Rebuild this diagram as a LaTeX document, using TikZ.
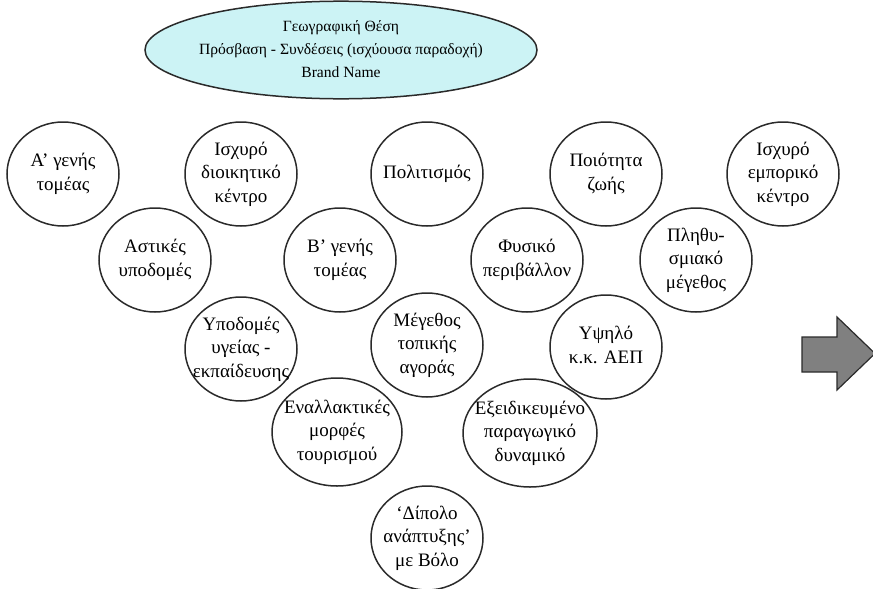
\documentclass[tikz,border=0pt]{standalone}
\usepackage{fontspec}
\setmainfont{Liberation Serif}
\usetikzlibrary{shapes.geometric}
\definecolor{topfill}{HTML}{CCF3F5}
\definecolor{linec}{HTML}{2A2A2A}
\definecolor{arrowfill}{HTML}{808080}
\newcommand\ctext[1]{\makebox[0pt]{\begin{tabular}{@{}c@{}}#1\end{tabular}}}
\tikzset{
  bubble/.style={ellipse, draw=linec, line width=1.5pt, inner sep=0pt,
    minimum width=112pt, minimum height=104pt,
    font=\fontsize{19}{23.5}\selectfont},
  wide/.style={bubble, minimum width=130pt, minimum height=108pt},
  topell/.style={ellipse, draw=linec, line width=1.5pt, fill=topfill, inner sep=0pt,
    minimum width=392pt, minimum height=92pt,
    font=\fontsize{15.6}{23}\selectfont},
  bigarrow/.style={draw=linec, line width=1.2pt, fill=arrowfill, line join=miter}
}
\begin{document}
\begin{tikzpicture}[x=1pt,y=-1pt]
\useasboundingbox (0,0) rectangle (873,589);
\node[topell] (top) at (341,50) {\ctext{Γεωγραφική Θέση\\Πρόσβαση - Συνδέσεις (ισχύουσα παραδοχή)\\Brand Name}};
\node[bubble] (a1) at (63,174) {\ctext{Α’ γενής\\τομέας}};
\node[bubble] (dk) at (241,174) {\ctext{Ισχυρό\\διοικητικό\\κέντρο}};
\node[bubble] (pol) at (427,174) {\ctext{Πολιτισμός}};
\node[bubble] (pz) at (606,174) {\ctext{Ποιότητα\\ζωής}};
\node[bubble] (ek) at (783,174) {\ctext{Ισχυρό\\εμπορικό\\κέντρο}};
\node[bubble] (ay) at (155,260) {\ctext{Αστικές\\υποδομές}};
\node[bubble] (b2) at (340,260) {\ctext{Β’ γενής\\τομέας}};
\node[bubble] (fp) at (527,260) {\ctext{Φυσικό\\περιβάλλον}};
\node[bubble] (pm) at (696,260) {\ctext{Πληθυ-\\σμιακό\\μέγεθος}};
\node[bubble] (yy) at (241,349) {\ctext{Υποδομές\\υγείας -\\εκπαίδευσης}};
\node[bubble] (mt) at (427,345) {\ctext{Μέγεθος\\τοπικής\\αγοράς}};
\node[bubble] (ya) at (606,347) {\ctext{Υψηλό\\κ.κ. ΑΕΠ}};
\node[wide] (et) at (337,432) {\ctext{Εναλλακτικές\\μορφές\\τουρισμού}};
\node[wide, minimum width=134pt] (ep) at (530,433) {\ctext{Εξειδικευμένο\\παραγωγικό\\δυναμικό}};
\node[bubble] (dv) at (427,538) {\ctext{‘Δίπολο\\ανάπτυξης’\\με Βόλο}};
\draw[bigarrow] (802,337) -- (837,337) -- (837,317) -- (875,353.5) -- (837,390) -- (837,372) -- (802,372) -- cycle;
\end{tikzpicture}
\end{document}
